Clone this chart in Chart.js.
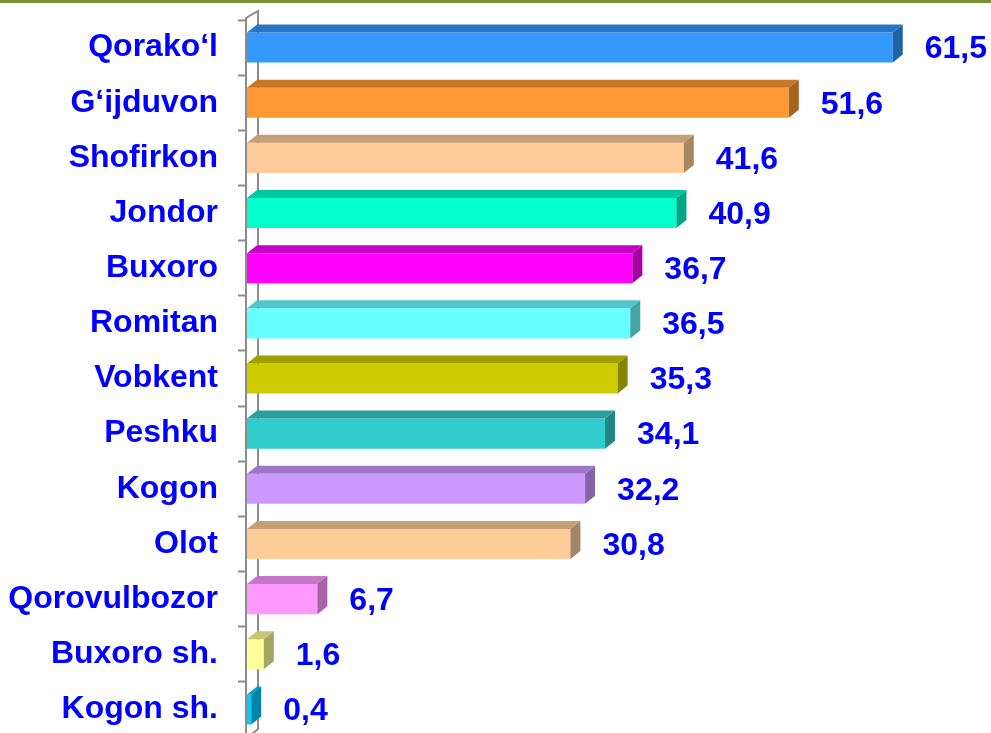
<!DOCTYPE html>
<html>
<head>
<meta charset="utf-8">
<title>Tumanlar</title>
<script src="https://cdn.jsdelivr.net/npm/chart.js@4.4.0/dist/chart.umd.min.js"></script>
<style>
  html, body { margin: 0; padding: 0; background: #fff; overflow: hidden; }
  #wrap { position: relative; width: 991px; height: 740px; }
</style>
</head>
<body>
<div id="wrap"><canvas id="chart"></canvas></div>
<script>
// District names and their values
const districts = ['Qorako‘l', 'G‘ijduvon', 'Shofirkon', 'Jondor', 'Buxoro', 'Romitan', 'Vobkent',
  'Peshku', 'Kogon', 'Olot', 'Qorovulbozor', 'Buxoro sh.', 'Kogon sh.'];
const values = [61.5, 51.6, 41.6, 40.9, 36.7, 36.5, 35.3, 34.1, 32.2, 30.8, 6.7, 1.6, 0.4];
const barColors = ['#3399FF', '#FF9933', '#FFCC99', '#00FFCC', '#FF00FF', '#66FFFF', '#CCCC00',
  '#33CCCC', '#CC99FF', '#FFCC99', '#FF99FF', '#FFFF99', '#00CCFF'];

const DEPTH_X = 10;
const DEPTH_Y = -8;
const AXIS_GREY = '#8c8c8c';
const TEXT_BLUE = '#0000ff';
const FONT = 'bold 32px "Liberation Sans", Arial, sans-serif';

function shade(hex, k) {
  const n = parseInt(hex.slice(1), 16);
  const r = Math.round(((n >> 16) & 255) * k);
  const g = Math.round(((n >> 8) & 255) * k);
  const b = Math.round((n & 255) * k);
  return `rgb(${r}, ${g}, ${b})`;
}

// Wall edge of the category axis plus the rule along the top
const wallPlugin = {
  id: 'wall',
  beforeDatasetsDraw(chart) {
    const { ctx, chartArea } = chart;
    const left = chartArea.left - 1;
    const top = chartArea.top;
    const bottom = chartArea.bottom;
    ctx.save();
    ctx.strokeStyle = AXIS_GREY;
    ctx.lineWidth = 2;
    ctx.beginPath();
    ctx.moveTo(left, bottom);
    ctx.lineTo(left, top - 2);
    ctx.lineTo(left + 12, top - 9);
    ctx.lineTo(left + 12, bottom - 8);
    ctx.lineTo(left + 6, bottom - 3);
    ctx.stroke();
    ctx.restore();
  },
  afterDraw(chart) {
    const { ctx, width } = chart;
    ctx.save();
    ctx.fillStyle = '#77933C';
    ctx.fillRect(0, 0, width, 3);
    ctx.restore();
  }
};

// Top and side faces for each bar, then the value label
const bar3dPlugin = {
  id: 'bar3d',
  afterDatasetsDraw(chart) {
    const { ctx } = chart;
    const meta = chart.getDatasetMeta(0);
    ctx.save();
    meta.data.forEach((bar, i) => {
      const { x, y, base, height } = bar.getProps(['x', 'y', 'base', 'height'], true);
      const top = y - height / 2;
      const bottom = y + height / 2;
      const color = barColors[i];

      ctx.fillStyle = shade(color, 0.78);
      ctx.beginPath();
      ctx.moveTo(base, top);
      ctx.lineTo(base + DEPTH_X, top + DEPTH_Y);
      ctx.lineTo(x + DEPTH_X, top + DEPTH_Y);
      ctx.lineTo(x, top);
      ctx.closePath();
      ctx.fill();

      ctx.fillStyle = shade(color, 0.65);
      ctx.beginPath();
      ctx.moveTo(x, top);
      ctx.lineTo(x + DEPTH_X, top + DEPTH_Y);
      ctx.lineTo(x + DEPTH_X, bottom + DEPTH_Y);
      ctx.lineTo(x, bottom);
      ctx.closePath();
      ctx.fill();

      ctx.fillStyle = TEXT_BLUE;
      ctx.font = FONT;
      ctx.textAlign = 'left';
      ctx.textBaseline = 'middle';
      ctx.fillText(values[i].toFixed(1).replace('.', ','), x + 32, y + 2);
    });
    ctx.restore();
  }
};

new Chart(document.getElementById('chart'), {
  type: 'bar',
  data: {
    labels: districts,
    datasets: [{
      data: values,
      backgroundColor: barColors,
      borderWidth: 0,
      categoryPercentage: 1,
      barPercentage: 0.545
    }]
  },
  options: {
    indexAxis: 'y',
    responsive: true,
    maintainAspectRatio: false,
    animation: false,
    layout: { padding: { top: 20, right: 9, bottom: 3, left: 0 } },
    plugins: {
      legend: { display: false },
      tooltip: { enabled: false }
    },
    scales: {
      x: {
        display: false,
        min: 0,
        max: 70
      },
      y: {
        afterFit(scale) {
          scale.width = 247;
          scale.paddingTop = 0;
          scale.paddingBottom = 0;
        },
        grid: {
          offset: true,
          drawOnChartArea: false,
          tickLength: 9,
          tickWidth: 2,
          tickColor: AXIS_GREY
        },
        border: { display: false },
        ticks: {
          padding: 20,
          color: TEXT_BLUE,
          font: { family: '"Liberation Sans", Arial, sans-serif', size: 32, weight: 'bold' }
        }
      }
    }
  },
  plugins: [wallPlugin, bar3dPlugin]
});
</script>
</body>
</html>
